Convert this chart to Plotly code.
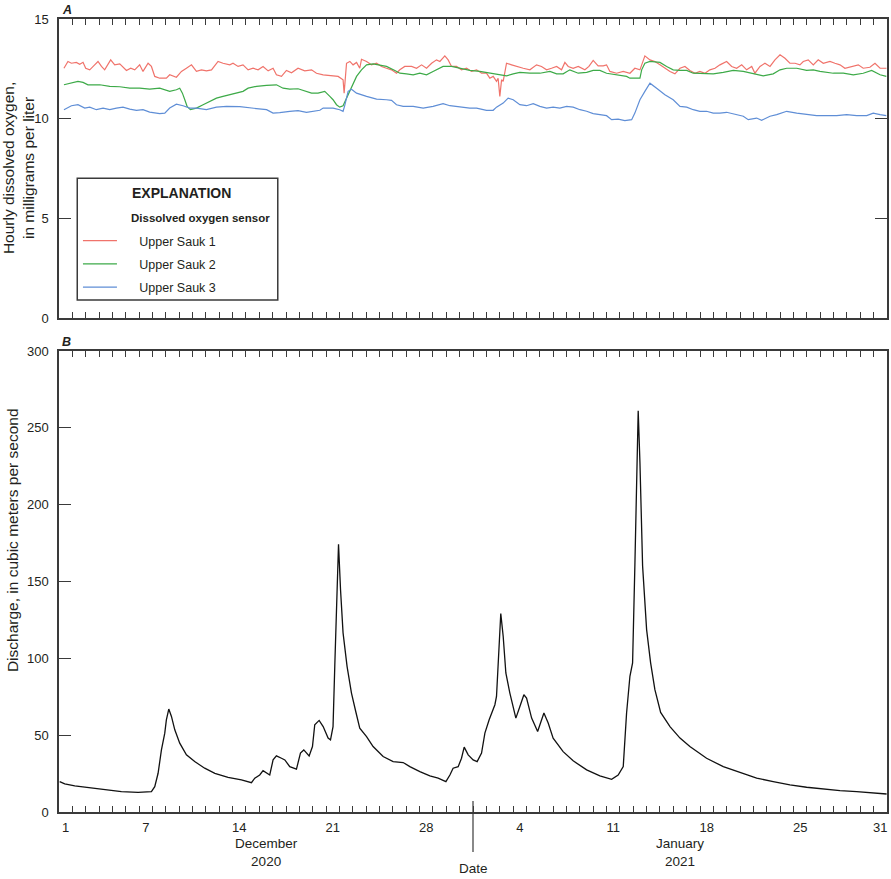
import pandas as pd
import plotly.graph_objects as go

# ---------------- DATA ----------------
START = pd.Timestamp("2020-12-01 00:00")

# Upper Sauk 1 dissolved oxygen (mg/L); time = days since 2020-12-01 00:00
do1_days = [0.37, 0.67, 0.93, 1.30, 1.55, 1.80, 2.00, 2.30, 2.67, 2.92, 3.18, 3.42, 3.87, 4.17, 4.55, 5.05, 5.37, 5.67,
            6.04, 6.29, 6.67, 6.92, 7.17, 7.54, 8.04, 8.29, 8.79, 9.17, 9.54, 9.92, 10.29, 10.67, 11.04, 11.42, 11.91,
            12.28, 12.79, 13.03, 13.41, 13.78, 14.16, 14.53, 14.91, 15.28, 15.66, 16.03, 16.28, 16.66, 17.03, 17.41,
            17.90, 18.40, 18.91, 19.28, 19.78, 20.28, 20.90, 21.27, 21.35, 21.53, 21.78, 22.02, 22.28, 22.52, 22.65,
            23.03, 23.40, 23.78, 24.15, 24.52, 24.90, 25.27, 25.52, 25.89, 26.40, 26.77, 27.15, 27.52, 27.90, 28.27,
            28.52, 28.89, 29.14, 29.39, 29.77, 30.14, 30.52, 30.89, 31.27, 31.64, 32.01, 32.26, 32.51, 32.76, 32.88,
            33.01, 33.14, 33.26, 33.51, 33.89, 34.26, 34.76, 35.26, 35.76, 36.13, 36.51, 36.88, 37.26, 37.63, 37.88,
            38.13, 38.50, 38.88, 39.38, 39.68, 40.00, 40.37, 40.75, 41.00, 41.25, 41.75, 42.25, 42.75, 43.12, 43.50,
            43.87, 44.25, 44.62, 45.00, 45.37, 45.75, 46.12, 46.50, 46.87, 47.24, 47.62, 47.99, 48.37, 48.74, 49.12,
            49.49, 49.99, 50.37, 50.74, 51.12, 51.49, 51.87, 52.11, 52.49, 52.86, 53.24, 53.61, 53.99, 54.36, 54.73,
            55.11, 55.48, 55.73, 56.10, 56.48, 56.85, 57.23, 57.73, 58.10, 58.48, 58.85, 59.36, 59.85, 60.22, 60.72,
            61.10, 61.48, 61.96]
do1_vals = [12.53, 12.87, 12.78, 12.82, 12.73, 12.83, 12.53, 12.45, 12.70, 12.87, 12.62, 12.45, 12.95, 12.70, 12.75,
            12.42, 12.53, 12.45, 12.70, 12.37, 12.78, 12.62, 12.12, 12.03, 12.03, 12.20, 12.08, 12.37, 12.53, 12.70,
            12.37, 12.45, 12.40, 12.45, 12.87, 12.78, 12.70, 12.78, 12.62, 12.70, 12.45, 12.53, 12.45, 12.62, 12.40,
            12.53, 12.20, 12.12, 12.42, 12.30, 12.53, 12.40, 12.45, 12.28, 12.20, 12.15, 12.12, 11.95, 11.28, 12.78,
            12.87, 12.70, 12.82, 12.53, 12.98, 12.87, 12.70, 12.78, 12.62, 12.53, 12.45, 12.28, 12.45, 12.62, 12.62,
            12.53, 12.70, 12.53, 12.78, 12.95, 12.87, 13.15, 12.95, 12.62, 12.62, 12.45, 12.53, 12.37, 12.45, 12.28,
            12.28, 12.03, 12.12, 11.87, 12.03, 11.12, 11.95, 11.87, 12.78, 12.70, 12.62, 12.53, 12.45, 12.70, 12.62,
            12.45, 12.53, 12.62, 12.45, 12.82, 12.62, 12.53, 12.62, 12.45, 12.62, 12.92, 12.65, 12.65, 12.70, 12.37,
            12.28, 12.37, 12.28, 12.53, 12.45, 13.15, 12.95, 12.87, 12.70, 12.53, 12.37, 12.25, 12.53, 12.62, 12.42,
            12.28, 12.37, 12.28, 12.45, 12.53, 12.70, 12.87, 12.62, 12.53, 12.70, 12.45, 12.62, 12.28, 12.62, 12.78,
            12.62, 12.95, 13.20, 13.03, 12.78, 12.78, 12.70, 12.87, 12.95, 12.70, 12.95, 12.78, 12.87, 12.78, 12.70,
            12.53, 12.62, 12.70, 12.53, 12.58, 12.78, 12.53, 12.53]

# Upper Sauk 2 dissolved oxygen (mg/L)
do2_days = [0.37, 0.80, 1.42, 1.80, 2.17, 2.55, 3.05, 3.80, 4.55, 5.30, 6.04, 6.79, 7.54, 8.29, 8.79, 9.04, 9.24, 9.42,
            9.59, 9.84, 10.29, 10.79, 11.29, 11.79, 12.28, 12.79, 13.29, 13.78, 14.16, 14.79, 15.54, 16.28, 16.78,
            17.28, 17.90, 18.53, 18.91, 19.40, 19.90, 20.28, 20.52, 20.78, 21.02, 21.27, 21.53, 21.90, 22.28, 22.65,
            23.03, 23.52, 24.02, 24.52, 25.15, 25.52, 26.02, 26.52, 27.02, 27.52, 28.01, 28.76, 29.39, 30.01, 30.76,
            31.51, 32.26, 33.01, 33.51, 34.01, 34.51, 35.26, 36.01, 36.76, 37.26, 37.75, 38.25, 38.88, 39.51, 40.00,
            40.50, 41.00, 41.75, 42.50, 42.75, 43.50, 43.63, 43.87, 44.25, 45.00, 45.50, 45.99, 46.50, 47.00, 47.49,
            48.24, 48.99, 49.74, 50.49, 51.24, 51.99, 52.73, 53.48, 53.99, 54.49, 55.24, 55.98, 56.48, 56.98, 57.48,
            57.98, 58.73, 59.48, 60.22, 60.85, 61.48, 61.95]
do2_vals = [11.70, 11.78, 11.87, 11.82, 11.70, 11.70, 11.70, 11.62, 11.60, 11.53, 11.53, 11.48, 11.53, 11.37, 11.45,
            11.53, 11.28, 10.95, 10.62, 10.45, 10.53, 10.70, 10.87, 11.03, 11.12, 11.20, 11.28, 11.37, 11.53, 11.62,
            11.67, 11.70, 11.53, 11.48, 11.50, 11.37, 11.28, 11.28, 11.37, 11.12, 10.95, 10.70, 10.58, 10.65, 11.03,
            11.62, 12.12, 12.45, 12.70, 12.75, 12.70, 12.62, 12.42, 12.28, 12.25, 12.20, 12.28, 12.20, 12.37, 12.62,
            12.62, 12.53, 12.42, 12.37, 12.28, 12.20, 12.15, 12.25, 12.32, 12.28, 12.28, 12.37, 12.25, 12.25, 12.45,
            12.28, 12.32, 12.42, 12.42, 12.28, 12.20, 12.12, 12.03, 12.03, 12.45, 12.78, 12.87, 12.82, 12.62, 12.45,
            12.42, 12.42, 12.28, 12.28, 12.25, 12.32, 12.42, 12.37, 12.25, 12.15, 12.25, 12.45, 12.53, 12.53, 12.42,
            12.45, 12.37, 12.32, 12.28, 12.28, 12.20, 12.28, 12.42, 12.20, 12.12]

# Upper Sauk 3 dissolved oxygen (mg/L)
do3_days = [0.37, 0.93, 1.42, 1.93, 2.30, 2.80, 3.30, 3.80, 4.30, 4.79, 5.30, 5.80, 6.29, 6.79, 7.54, 7.92, 8.29, 8.79,
            9.29, 9.79, 10.29, 11.04, 11.79, 12.54, 13.54, 14.53, 15.54, 16.03, 16.53, 17.28, 17.90, 18.53, 19.03,
            19.53, 19.78, 20.52, 21.02, 21.27, 21.38, 21.48, 21.65, 21.90, 22.28, 23.03, 23.78, 24.52, 24.90, 25.27,
            25.77, 26.52, 27.27, 28.01, 28.76, 29.27, 30.01, 30.76, 31.27, 32.01, 32.51, 32.76, 33.26, 33.63, 34.01,
            34.51, 35.01, 35.51, 36.01, 36.51, 37.00, 37.50, 38.01, 38.50, 39.01, 39.51, 40.00, 40.50, 41.00, 41.38,
            41.87, 42.37, 42.88, 43.12, 43.50, 43.87, 44.25, 44.75, 45.37, 45.99, 46.50, 47.00, 47.49, 47.99, 48.49,
            48.99, 49.49, 49.99, 50.74, 51.24, 51.61, 52.24, 52.61, 53.24, 53.74, 54.11, 54.49, 55.24, 55.98, 56.73,
            57.48, 58.23, 58.98, 59.73, 60.48, 60.97, 61.48, 61.95]
do3_vals = [10.45, 10.65, 10.70, 10.53, 10.58, 10.45, 10.53, 10.45, 10.53, 10.58, 10.48, 10.42, 10.45, 10.33, 10.25,
            10.28, 10.53, 10.73, 10.65, 10.53, 10.53, 10.45, 10.58, 10.62, 10.60, 10.53, 10.45, 10.28, 10.30, 10.37,
            10.40, 10.32, 10.37, 10.42, 10.53, 10.53, 10.45, 10.37, 10.62, 10.95, 11.37, 11.48, 11.28, 11.12, 10.98,
            10.95, 10.92, 10.70, 10.62, 10.62, 10.53, 10.62, 10.75, 10.65, 10.58, 10.53, 10.53, 10.42, 10.42, 10.58,
            10.78, 11.03, 10.95, 10.70, 10.65, 10.75, 10.62, 10.53, 10.58, 10.53, 10.62, 10.58, 10.45, 10.37, 10.25,
            10.20, 10.15, 9.95, 9.98, 9.90, 9.95, 10.28, 10.95, 11.37, 11.78, 11.53, 11.20, 10.95, 10.62, 10.58,
            10.45, 10.37, 10.37, 10.28, 10.28, 10.32, 10.20, 10.12, 9.95, 10.03, 9.92, 10.12, 10.20, 10.28, 10.37,
            10.28, 10.20, 10.15, 10.15, 10.15, 10.20, 10.15, 10.15, 10.28, 10.20, 10.15]

# Discharge (m3/s)
q_days = [0.05, 0.43, 1.18, 2.17, 3.42, 4.67, 5.92, 6.92, 7.17, 7.42, 7.67, 7.92, 8.04, 8.22, 8.42, 8.67, 9.04, 9.54,
          10.16, 10.91, 11.67, 12.66, 13.66, 14.41, 14.66, 15.03, 15.28, 15.54, 15.78, 16.03, 16.28, 16.66, 16.91,
          17.28, 17.78, 18.08, 18.33, 18.73, 18.98, 19.15, 19.48, 19.78, 20.15, 20.33, 20.52, 20.65, 20.78, 20.93,
          21.08, 21.27, 21.57, 21.90, 22.22, 22.52, 23.03, 23.52, 24.27, 25.02, 25.77, 26.27, 27.02, 27.77, 28.39,
          28.97, 29.27, 29.51, 29.89, 30.14, 30.34, 30.64, 31.01, 31.31, 31.64, 31.89, 32.21, 32.64, 32.76, 32.88,
          33.08, 33.26, 33.46, 33.76, 34.21, 34.51, 34.81, 35.01, 35.39, 35.84, 36.31, 36.63, 37.00, 37.75, 38.50,
          39.51, 40.50, 41.38, 41.87, 42.25, 42.50, 42.75, 42.95, 43.12, 43.25, 43.37, 43.50, 43.70, 44.00, 44.30,
          44.62, 45.05, 45.75, 46.50, 47.24, 48.49, 49.74, 50.99, 52.24, 53.48, 54.73, 55.98, 57.23, 58.48, 59.73,
          60.97, 61.97]
q_vals = [19.8, 18.3, 17.0, 15.9, 14.4, 13.2, 12.8, 13.2, 16.5, 25.2, 40.4, 51.3, 60.0, 67.0, 62.2, 53.5, 44.8, 37.2,
          32.8, 28.5, 25.2, 22.6, 20.9, 19.1, 22.0, 24.1, 26.9, 25.2, 24.1, 33.9, 36.5, 35.0, 33.9, 29.5, 27.9, 38.3,
          40.4, 36.5, 42.6, 56.8, 59.6, 55.6, 48.1, 47.0, 55.6, 94.8, 138.3, 174.2, 144.8, 116.6, 94.8, 77.4, 65.4,
          54.6, 49.1, 42.6, 36.1, 32.8, 32.2, 29.5, 26.3, 23.5, 22.0, 19.8, 24.1, 28.5, 29.5, 35.0, 42.2, 37.2, 33.9,
          32.8, 38.3, 51.3, 60.0, 69.8, 75.2, 94.8, 129.2, 114.4, 90.5, 77.4, 61.1, 68.7, 76.3, 74.2, 61.1, 52.4,
          64.4, 57.9, 48.1, 39.3, 33.3, 27.4, 23.5, 21.3, 24.1, 29.5, 64.4, 88.3, 97.0, 160.0, 227.5, 261.1, 227.5,
          160.0, 118.7, 97.0, 79.6, 64.8, 55.6, 48.1, 42.6, 35.0, 29.5, 25.6, 22.0, 19.8, 17.6, 16.1, 14.8, 13.9,
          13.2, 12.2, 11.7]

series_names = ["Upper Sauk 1", "Upper Sauk 2", "Upper Sauk 3"]
series_colors = ["#F0736B", "#3DAA48", "#5F8ED6"]

tick_days = ["2020-12-01", "2020-12-07", "2020-12-14", "2020-12-21", "2020-12-28",
             "2021-01-04", "2021-01-11", "2021-01-18", "2021-01-25", "2021-01-31"]
tick_text = ["1", "7", "14", "21", "28", "4", "11", "18", "25", "31"]
month_labels = ["December<br>2020", "January<br>2021"]
month_centers = ["2020-12-16 12:00", "2021-01-16 12:00"]
year_break = "2021-01-01"

# ---------------- LAYOUT HELPERS ----------------
W, H = 891, 879
L, R, T, B = 59, 2, 19, 67


def px(x):
    return (x - L) / (W - L - R)


def py(y):
    return (H - B - y) / (H - T - B)


FONT = "Liberation Sans, Arial, sans-serif"
TXT = "#231F20"
AX = "#3A3A3A"
NB = "\u00a0"


def to_time(days):
    return START + pd.to_timedelta(pd.Series(days), unit="D")


fig = go.Figure()

for days, vals, name, col in zip([do1_days, do2_days, do3_days], [do1_vals, do2_vals, do3_vals],
                                 series_names, series_colors):
    fig.add_trace(go.Scatter(x=to_time(days), y=vals, mode="lines", name=NB * 5 + name, legendgroup=name,
                             line=dict(color=col, width=1.2), xaxis="x", yaxis="y"))

fig.add_trace(go.Scatter(x=to_time(q_days), y=q_vals, mode="lines", showlegend=False,
                         line=dict(color="#111111", width=1.3), xaxis="x2", yaxis="y2"))

xrange = [START, START + pd.Timedelta(days=62)]
noon = [pd.Timestamp(d) + pd.Timedelta(hours=12) for d in tick_days]

xcommon = dict(type="date", range=xrange, showgrid=False, zeroline=False, showline=True,
               linecolor=AX, linewidth=1.5, mirror="ticks", ticks="inside", ticklen=0,
               tickvals=noon, tickfont=dict(family=FONT, size=13, color=TXT),
               minor=dict(ticks="inside", ticklen=6, tickcolor=AX, tickwidth=1,
                          dtick=86400000, tick0="2020-12-01", showgrid=False))

fig.update_layout(
    width=W, height=H, margin=dict(l=L, r=R, t=T, b=B),
    paper_bgcolor="white", plot_bgcolor="white",
    font=dict(family=FONT, color=TXT, size=12),
    xaxis=dict(xcommon, anchor="y", domain=[0, 1], showticklabels=False, ticktext=tick_text),
    xaxis2=dict(xcommon, anchor="y2", domain=[0, 1], ticktext=tick_text, ticklabelstandoff=3),
    yaxis=dict(domain=[py(318), 1], range=[0, 15], dtick=5, ticks="inside", ticklen=12,
               tickcolor=AX, showline=True, linecolor=AX, linewidth=1.5, mirror="ticks",
               showgrid=False, zeroline=False, anchor="x", ticklabelstandoff=6,
               tickfont=dict(family=FONT, size=13, color=TXT)),
    yaxis2=dict(domain=[0, py(351)], range=[0, 300], dtick=50, ticks="inside", ticklen=12,
                tickcolor=AX, showline=True, linecolor=AX, linewidth=1.5, mirror=True,
                showgrid=False, zeroline=False, anchor="x2", ticklabelstandoff=6,
                tickfont=dict(family=FONT, size=13, color=TXT)),
    yaxis3=dict(overlaying="y2", side="right", anchor="x2", range=[0, 11], dtick=1,
                ticks="inside", ticklen=12, tickcolor=AX, showticklabels=False,
                showline=False, showgrid=False, zeroline=False),
    showlegend=True,
    legend=dict(x=px(78), y=py(226), xanchor="left", yanchor="top", bgcolor="rgba(0,0,0,0)",
                borderwidth=0, itemwidth=34, tracegroupgap=4,
                font=dict(family=FONT, size=12.5, color=TXT)),
)

# legend frame and headings
fig.add_shape(type="rect", xref="paper", yref="paper", x0=px(77.3), x1=px(278.3), y0=py(300), y1=py(178.3),
              line=dict(color=AX, width=1.5), fillcolor="rgba(0,0,0,0)", layer="above")
annos = [
    dict(text="<b>EXPLANATION</b>", x=px(130), y=py(193), xanchor="left", yanchor="middle",
         font=dict(size=14)),
    dict(text="<b>Dissolved oxygen sensor</b>", x=px(129), y=py(218), xanchor="left", yanchor="middle",
         font=dict(size=11.5)),
    dict(text="<b><i>A</i></b>", x=px(60), y=py(10), xanchor="left", yanchor="middle", font=dict(size=12.5)),
    dict(text="<b><i>B</i></b>", x=px(60), y=py(342), xanchor="left", yanchor="middle", font=dict(size=12.5)),
    dict(text="Hourly dissolved oxygen,<br>in milligrams per liter", x=px(19), y=py(168), textangle=-90,
         xanchor="center", yanchor="middle", font=dict(size=15.5)),
    dict(text="Discharge, in cubic meters per second", x=px(12), y=py(540), textangle=-90,
         xanchor="center", yanchor="middle", font=dict(size=15.5)),
]
for a in annos:
    a.update(xref="paper", yref="paper", showarrow=False)
    a["font"] = dict(family=FONT, color=TXT, **a["font"])
    fig.add_annotation(**a)

for lab, c in zip(month_labels, month_centers):
    fig.add_annotation(text=lab, x=c, xref="x2", y=py(852.5), yref="paper", showarrow=False,
                       xanchor="center", yanchor="middle",
                       font=dict(family=FONT, size=13.5, color=TXT))
fig.add_annotation(text="Date", x=year_break, xref="x2", y=py(868), yref="paper", showarrow=False,
                   xanchor="center", yanchor="middle", font=dict(family=FONT, size=13.5, color=TXT))
fig.add_shape(type="line", xref="x2", x0=year_break, x1=year_break, yref="paper", y0=py(852), y1=py(801),
              line=dict(color=AX, width=1.2))

fig.write_html("out.html", config={"displayModeBar": False},
               post_script="document.body.style.margin='0px';")
